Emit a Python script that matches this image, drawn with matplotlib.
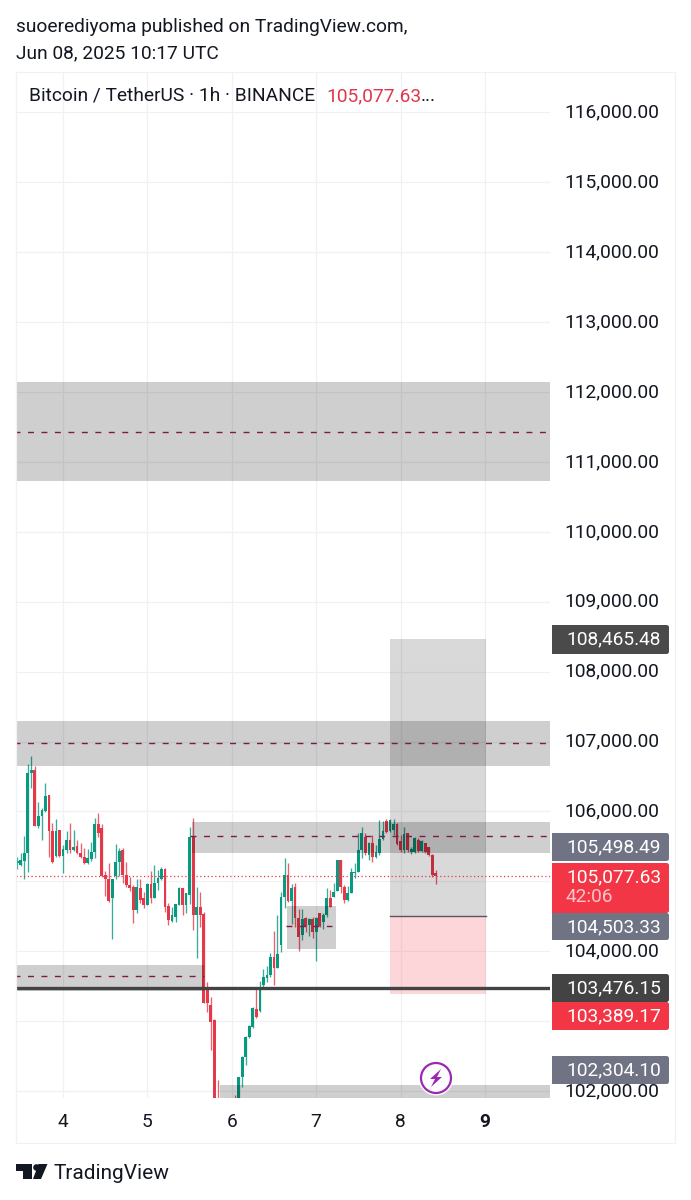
import matplotlib
matplotlib.use('Agg')
import matplotlib.pyplot as plt
from matplotlib.patches import FancyBboxPatch, Circle, Polygon, Rectangle
from matplotlib.transforms import ScaledTranslation

plt.rcParams['font.family'] = ['Roboto', 'DejaVu Sans']

# hourly candles, first one is Jun 3 11:00 UTC
opens = [105268, 105235, 105297, 105411, 106546, 106594, 105793, 105936, 106012, 106236,
         105726, 105363, 105735, 105363, 105449, 105592, 105449, 105506, 105411, 105354,
         105268, 105316, 105425, 105821, 105759, 105092, 105030, 104758, 105077, 105282,
         105449, 105092, 104948, 104915, 104591, 104901, 104758, 104662, 104963, 104758,
         104982, 105030, 105173, 104648, 104438, 104495, 104662, 104901, 104662, 104810,
         105640, 104520, 104639, 104534, 103447, 103232, 103018, 101820, 101400, 101200,
         101000, 101150, 101800, 101650, 102197, 102493, 102769, 102922, 103170, 103151,
         103518, 103614, 103661, 103924, 103757, 104090, 104772, 105092, 104725, 104916,
         104472, 104234, 104472, 104377, 104458, 104281, 104553, 104424, 104520, 104758,
         104782, 104868, 105307, 104916, 104734, 104839, 105125, 105140, 105450, 105631,
         105378, 105545, 105345, 105412, 105602, 105869, 105726, 105736, 105822, 105583,
         105450, 105688, 105426, 105426, 105593, 105440, 105545, 105488, 105378, 105125]
highs = [105344, 105411, 105650, 106680, 106794, 106651, 106141, 106045, 106413, 106236,
         105840, 105888, 105735, 105521, 105726, 105831, 105735, 105592, 105545, 105473,
         105459, 105568, 105902, 105983, 105821, 105154, 105259, 105030, 105535, 105473,
         105473, 105282, 105068, 104948, 105030, 105030, 104853, 104972, 105154, 105235,
         105163, 105211, 105187, 104686, 104638, 104677, 104915, 104901, 104839, 105773,
         105903, 104916, 104853, 104567, 103566, 103342, 103027, 102159, 101700, 101450,
         101300, 101500, 101944, 102197, 102502, 102789, 102946, 103208, 103471, 103580,
         103742, 103790, 103981, 104296, 104520, 104853, 105330, 105268, 104963, 104973,
         104601, 104601, 104486, 104472, 104486, 104496, 104553, 104544, 104901, 104877,
         104982, 105307, 105307, 104949, 104935, 105187, 105259, 105688, 105784, 105688,
         105569, 105664, 105521, 105879, 105869, 105888, 105888, 105888, 105831, 105664,
         105774, 105698, 105497, 105631, 105617, 105593, 105555, 105497, 105392, 105163]
lows = [105173, 105220, 105030, 105139, 106331, 105793, 105759, 105592, 105998, 105344,
        105268, 105354, 105354, 105125, 105411, 105401, 105440, 105392, 105330, 105249,
        105249, 105297, 105330, 105640, 105068, 104791, 104710, 104171, 105030, 105077,
        104972, 104925, 104867, 104400, 104553, 104686, 104615, 104662, 104686, 104758,
        104877, 105020, 104567, 104376, 104424, 104424, 104662, 104519, 104543, 104680,
        104305, 103900, 104353, 103256, 103137, 102588, 101500, 101300, 101000, 100800,
        100700, 101000, 101500, 101600, 102054, 102374, 102755, 102898, 103041, 103137,
        103490, 103566, 103637, 103518, 103757, 103995, 104615, 104710, 104391, 104353,
        104009, 104162, 104281, 104219, 104186, 103866, 104353, 104315, 104486, 104629,
        104772, 104868, 104830, 104687, 104725, 104839, 105044, 105140, 105330, 105378,
        105307, 105283, 105330, 105378, 105593, 105698, 105712, 105664, 105521, 105426,
        105412, 105426, 105392, 105412, 105426, 105426, 105402, 105364, 105068, 104963]
closes = [105297, 105306, 105401, 106546, 106594, 105793, 105936, 106022, 106222, 105726,
          105282, 105726, 105363, 105459, 105592, 105449, 105497, 105401, 105344, 105268,
          105330, 105425, 105821, 105697, 105077, 105030, 104724, 105030, 105282, 105440,
          105092, 104948, 104901, 104591, 104925, 104734, 104662, 104963, 104758, 104982,
          105044, 105173, 104638, 104448, 104519, 104677, 104901, 104662, 104829, 105640,
          104520, 104639, 104520, 103265, 103256, 102994, 101700, 101400, 101200, 101000,
          101150, 101400, 101600, 102197, 102493, 102769, 102932, 103184, 103065, 103494,
          103628, 103661, 103924, 103757, 103962, 104772, 105092, 104725, 104901, 104472,
          104210, 104458, 104362, 104458, 104281, 104472, 104362, 104520, 104758, 104639,
          104853, 105307, 104916, 104734, 104830, 105140, 105140, 105450, 105688, 105402,
          105545, 105345, 105426, 105602, 105726, 105712, 105879, 105822, 105535, 105450,
          105679, 105450, 105459, 105617, 105440, 105583, 105426, 105378, 105092, 105077.63]

price_ticks = [116000, 115000, 114000, 113000, 112000, 111000, 110000, 109000,
               108000, 107000, 106000, 105000, 104000, 103000, 102000]
hidden_ticks = [105000, 103000]
day_ticks = [13, 37, 61, 85, 109, 133]
day_labels = ['4', '5', '6', '7', '8', '9']

# zones: hour start, hour end, price top, price bottom, dashed mid line (start, end, price)
zones = [(-1, 152, 112144, 110728, (-1, 152, 111429)),
         (-1, 152, 107295, 106651, (-1, 152, 106980)),
         (49.7, 152, 105850, 105406, (49, 152, 105650)),
         (76.6, 90.6, 104648, 104033, (76.4, 89.5, 104362)),
         (-1, 53, 103804, 103430, (-1, 53, 103647)),
         (57.6, 152, 102087, 101500, None)]

last_price = 105077.63
target_price = 108465.48
entry_price = 104503.33
stop_price = 103389.17
level_price = 103476.15
pos_start = 106
pos_end = 133.2

# price scale tags: text, colour, top px, bottom px
tags = [('108,465.48', '#4a4a4a', 625, 654),
        ('105,498.49', '#6f7384', 833, 861),
        ('105,077.63', '#f23645', 863, 913),
        ('104,503.33', '#6f7384', 913, 940),
        ('103,476.15', '#434343', 974, 1002),
        ('103,389.17', '#f23645', 1002, 1030),
        ('102,304.10', '#6f7384', 1056, 1084)]

W, H = 691, 1200
fig = plt.figure(figsize=(W / 100, H / 100), dpi=100)
fig.patch.set_facecolor('white')

ax = fig.add_axes([16 / W, 1 - 1098 / H, 534 / W, 1026 / H])
ax.set_xlim(-0.37, 151.5)
ax.set_ylim(101901, 116579)
for s in ax.spines.values():
    s.set_visible(False)
ax.grid(True, color='#f0f1f4', lw=0.9)
ax.set_axisbelow(True)
ax.yaxis.tick_right()
ax.set_yticks(price_ticks)
ax.set_yticklabels(['' if p in hidden_ticks else f'{p:,.2f}' for p in price_ticks])
ax.set_xticks(day_ticks)
ax.set_xticklabels(day_labels)
ax.tick_params(axis='y', length=0, pad=10.2, labelsize=13.8, labelcolor='#131722')
ax.tick_params(axis='x', length=0, pad=10.7, labelsize=13.8, labelcolor='#131722')
ax.get_xticklabels()[-1].set_fontweight('bold')
# nudge price labels up a little
for lab in ax.get_yticklabels():
    lab.set_transform(lab.get_transform() + ScaledTranslation(0, 2 / 100, fig.dpi_scale_trans))

# candles
for i in range(len(opens)):
    col = '#089981' if closes[i] >= opens[i] else '#e5394a'
    ax.vlines(i, lows[i], highs[i], color=col, lw=0.95, alpha=0.8, zorder=3)
    ax.bar(i, abs(closes[i] - opens[i]), bottom=min(opens[i], closes[i]), width=0.8,
           color=col, lw=0, zorder=4)

# zones and their mid lines
for x0, x1, top, bottom, mid in zones:
    ax.add_patch(Rectangle((x0, bottom), x1 - x0, top - bottom, fc=(0, 0, 0, 0.19), lw=0, zorder=5))
    if mid is not None:
        ax.plot(mid[:2], [mid[2], mid[2]], color='#7d1a4c', lw=1, dashes=(4.3, 5.4),
                dash_capstyle='butt', zorder=6)

# position tool
ax.add_patch(Rectangle((pos_start, entry_price), pos_end - pos_start, target_price - entry_price,
                       fc=(0, 0, 0, 0.15), lw=0, zorder=5))
ax.add_patch(Rectangle((pos_start, stop_price), pos_end - pos_start, entry_price - stop_price,
                       fc=(0.95, 0.21, 0.27, 0.2), lw=0, zorder=5))
ax.plot([pos_start, pos_end], [entry_price, entry_price], color='#5d5555', lw=1, zorder=6)

ax.axhline(level_price, color='#434343', lw=2.4, zorder=7)
ax.axhline(last_price, color='#f23645', lw=0.9, ls=(0, (1, 2)), zorder=7)

# overlay in pixels for the page furniture
ov = fig.add_axes([0, 0, 1, 1], zorder=10)
ov.set_xlim(0, W)
ov.set_ylim(H, 0)
ov.axis('off')
ov.patch.set_alpha(0)

frame = '#f0f1f4'
ov.plot([16, 675.5, 675.5, 16, 16], [71.5, 71.5, 1143, 1143, 71.5], color=frame, lw=0.9)

ov.text(16, 32, 'suoerediyoma published on TradingView.com,', fontsize=13.8, color='#131722', va='baseline')
ov.text(16, 58, 'Jun 08, 2025 10:17 UTC', fontsize=13.8, color='#131722', va='baseline')
ov.text(29, 101, 'Bitcoin / TetherUS · 1h · BINANCE', fontsize=13.8, color='#131722', va='baseline')
ov.text(326, 101, '105,077.63', fontsize=13.8, color='#e0364c', va='baseline')
ov.text(421, 101, '...', fontsize=13.8, color='#131722', va='baseline')

for text, col, top, bottom in tags:
    ov.add_patch(FancyBboxPatch((554, top + 2), 113, bottom - top - 4,
                                boxstyle='round,pad=2,rounding_size=2.5', fc=col, ec='none'))
    ov.add_patch(Rectangle((552, top), 5, bottom - top, fc=col, ec='none'))
    ov.text(566, top + 14.5, text, fontsize=13.8, color='white', va='center', ha='left')
ov.text(566, 897, '42:06', fontsize=13.8, color='#fbc4c9', va='center', ha='left')

# lightning badge
ov.add_patch(Circle((436, 1078), 17.5, fc='white', ec='none'))
ov.add_patch(Circle((436, 1078), 15, fc='white', ec='#9c27b0', lw=1.6))
ov.add_patch(Polygon([(441, 1069), (430, 1079), (435, 1079), (431, 1087),
                      (442, 1077), (437, 1077)], fc='#9c27b0', ec='none'))

# TradingView logo
ov.add_patch(Polygon([(16, 1164), (32, 1164), (32, 1179), (23, 1179), (23, 1171), (16, 1171)],
                     fc='#131722', ec='none'))
ov.add_patch(Circle((36.5, 1167.5), 3.3, fc='#131722', ec='none'))
ov.add_patch(Polygon([(38.5, 1164), (47.5, 1164), (41, 1179), (33, 1179)], fc='#131722', ec='none'))
ov.text(54, 1179, 'TradingView', fontsize=15, color='#131722', va='baseline')

fig.savefig('out.png', dpi=100)
